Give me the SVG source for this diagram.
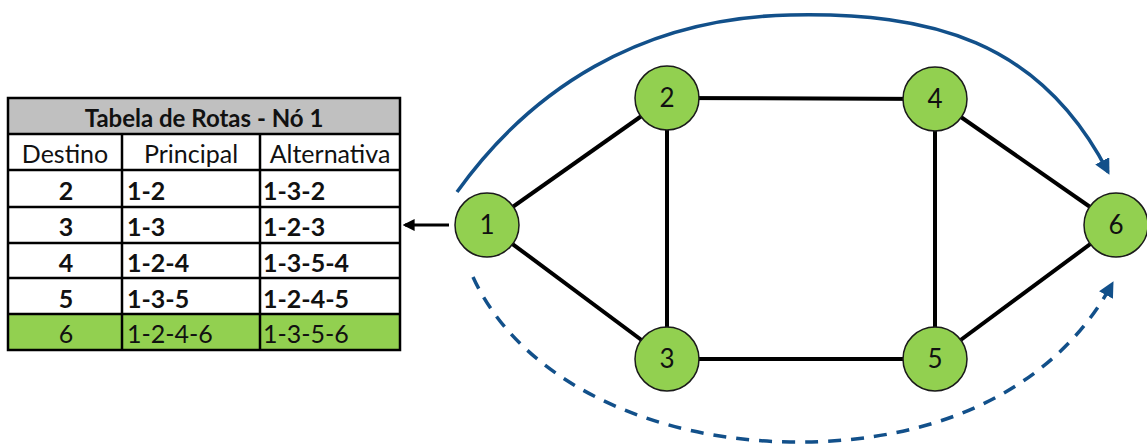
<svg xmlns="http://www.w3.org/2000/svg" width="1147" height="446" viewBox="0 0 1147 446">
  <style>
    .cell { fill: #ffffff; }
    .grid { stroke: #000000; stroke-width: 2.5; fill: none; }
    .t { font-family: Lato, "Liberation Sans", sans-serif; font-size: 25px; fill: #111111; }
    .h { font-size: 24px; font-weight: bold; }
    .b { font-weight: bold; }
    .edge { stroke: #000000; stroke-width: 4; fill: none; }
    .node circle { fill: #92d050; stroke: #1a1a1a; stroke-width: 1.5; }
    .node text { font-family: Lato, "Liberation Sans", sans-serif; font-size: 26px; fill: #111111; text-anchor: middle; }
    .route { stroke: #12508a; stroke-width: 3.5; fill: none; }
  </style>
  <defs>
    <marker id="blueHead" viewBox="0 0 10 10" refX="8" refY="5" markerWidth="4.5" markerHeight="4.5" orient="auto" markerUnits="strokeWidth">
      <path d="M0,0 L10,5 L0,10 z" fill="#12508a"/>
    </marker>
    <marker id="blackHead" viewBox="0 0 10 10" refX="8" refY="5" markerWidth="4" markerHeight="4" orient="auto" markerUnits="strokeWidth">
      <path d="M0,0 L10,5 L0,10 z" fill="#000000"/>
    </marker>
  </defs>

  <!-- routing table of node 1 -->
  <g id="table">
    <rect x="8" y="98" width="392" height="36" fill="#c0c0c0"/>
    <rect x="8" y="134" width="392" height="180" class="cell"/>
    <rect x="8" y="314" width="392" height="36" fill="#92d050"/>
    <rect x="8" y="98" width="392" height="252" class="grid"/>
    <path class="grid" d="M8,134 H400 M8,170 H400 M8,207 H400 M8,243 H400 M8,278 H400 M8,314 H400 M122,134 V350 M260,134 V350"/>
    <text class="t h" x="204" y="127" text-anchor="middle">Tabela de Rotas - Nó 1</text>
    <text class="t" x="65" y="163" text-anchor="middle">Destino</text>
    <text class="t" x="191" y="163" text-anchor="middle">Principal</text>
    <text class="t" x="330" y="163" text-anchor="middle">Alternativa</text>
    <text class="t b" x="66" y="200" text-anchor="middle">2</text>
    <text class="t b" x="127" y="200">1-2</text>
    <text class="t b" x="263" y="200">1-3-2</text>
    <text class="t b" x="66" y="236" text-anchor="middle">3</text>
    <text class="t b" x="127" y="236">1-3</text>
    <text class="t b" x="263" y="236">1-2-3</text>
    <text class="t b" x="66" y="272" text-anchor="middle">4</text>
    <text class="t b" x="127" y="272">1-2-4</text>
    <text class="t b" x="263" y="272">1-3-5-4</text>
    <text class="t b" x="66" y="308" text-anchor="middle">5</text>
    <text class="t b" x="127" y="308">1-3-5</text>
    <text class="t b" x="263" y="308">1-2-4-5</text>
    <text class="t" x="66" y="343" text-anchor="middle">6</text>
    <text class="t" x="127" y="343">1-2-4-6</text>
    <text class="t" x="263" y="343">1-3-5-6</text>
  </g>

  <!-- links and routes -->
  <g id="connectors">
    <path class="edge" d="M487,225 L667,98"/>
    <path class="edge" d="M487,225 L667,359"/>
    <path class="edge" d="M667,98 L935,99"/>
    <path class="edge" d="M667,98 L667,359"/>
    <path class="edge" d="M667,359 L935,359"/>
    <path class="edge" d="M935,99 L935,359"/>
    <path class="edge" d="M935,99 L1116,225"/>
    <path class="edge" d="M935,359 L1116,225"/>
    <path d="M449,225 L405,225" stroke="#000" stroke-width="3" fill="none" marker-end="url(#blackHead)"/>
    <path class="route" d="M457,192 C530,90 640,18 790,15 C930,12 1040,40 1108,172" marker-end="url(#blueHead)"/>
    <path class="route" d="M473,277 C520,380 650,440 790,442 C950,444 1060,380 1112,284" stroke-dasharray="13 10" marker-end="url(#blueHead)"/>
  </g>

  <g id="node1" class="node"><circle cx="487" cy="225" r="32"/><text x="487" y="234">1</text></g>
  <g id="node2" class="node"><circle cx="667" cy="98" r="32"/><text x="667" y="107">2</text></g>
  <g id="node3" class="node"><circle cx="667" cy="359" r="32"/><text x="667" y="368">3</text></g>
  <g id="node4" class="node"><circle cx="935" cy="99" r="32"/><text x="935" y="108">4</text></g>
  <g id="node5" class="node"><circle cx="935" cy="359" r="32"/><text x="935" y="368">5</text></g>
  <g id="node6" class="node"><circle cx="1116" cy="225" r="32"/><text x="1116" y="234">6</text></g>
</svg>
